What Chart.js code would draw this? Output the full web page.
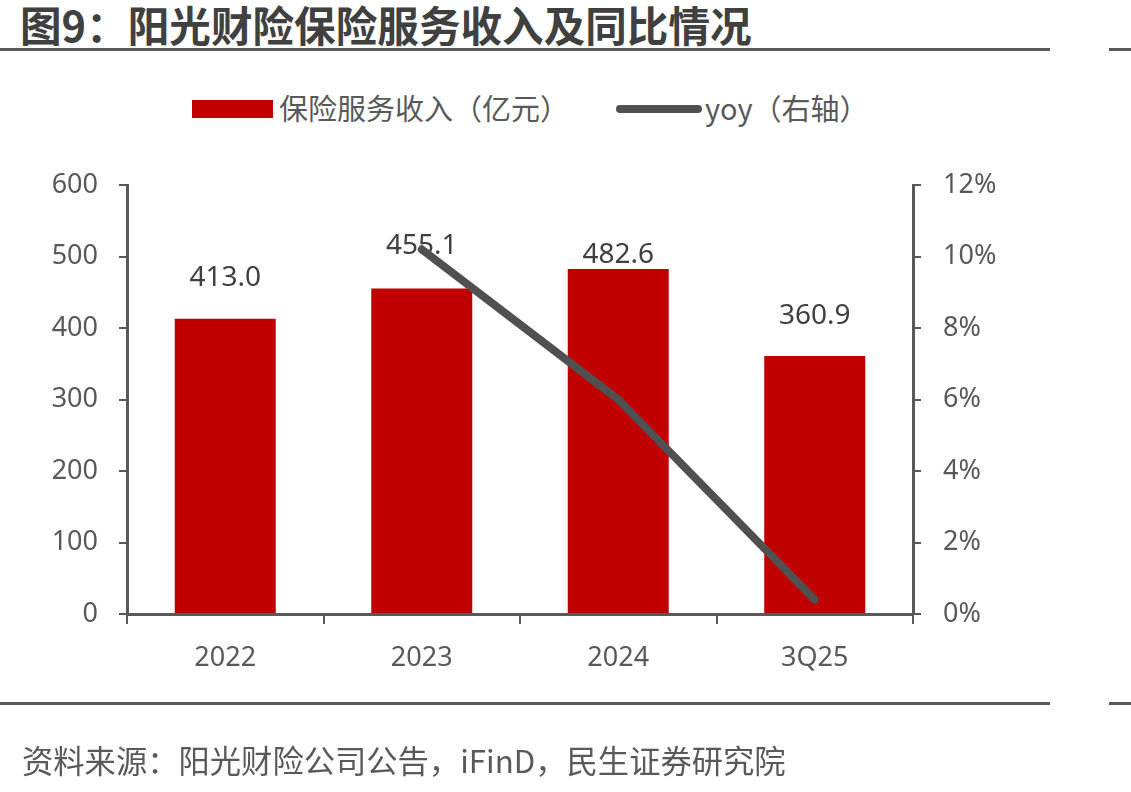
<!DOCTYPE html>
<html>
<head>
<meta charset="utf-8">
<script src="https://cdn.jsdelivr.net/npm/chart.js@4/dist/chart.umd.min.js"></script>
<style>
  html, body { margin:0; padding:0; background:#fff; }
  body { width:1131px; height:792px; position:relative; overflow:hidden;
         font-family:"Noto Sans","Noto Sans CJK SC",sans-serif; }
  #title { position:absolute; left:20px; top:1px; font-family:"Noto Sans CJK SC","Noto Sans",sans-serif;
           font-weight:700; font-size:41.6px; line-height:46px; color:#404040; white-space:nowrap; }
  .rule { position:absolute; height:3px; background:#595959; }
  .leg { position:absolute; font-family:"Noto Sans CJK SC","Noto Sans",sans-serif; font-size:29px;
         line-height:30px; color:#595959; white-space:nowrap; }
  #source { position:absolute; left:22px; top:742px; font-family:"Noto Sans CJK SC","Noto Sans",sans-serif;
            font-size:31.3px; line-height:36px; color:#595959; white-space:nowrap; }
  canvas { position:absolute; left:0; top:0; }
</style>
</head>
<body>
<div id="title">图9：阳光财险保险服务收入及同比情况</div>
<div class="rule" style="top:48px;left:0;width:1050px;"></div>
<div class="rule" style="top:48px;left:1109px;width:22px;"></div>

<div style="position:absolute;left:192px;top:100px;width:81px;height:18px;background:#C00000;"></div>
<div class="leg" style="left:279px;top:92px;">保险服务收入（亿元）</div>
<div style="position:absolute;left:616px;top:105px;width:86px;height:8px;border-radius:4px;background:#505050;"></div>
<div class="leg" style="left:705px;top:92px;">yoy（右轴）</div>

<canvas id="c" width="1131" height="792"></canvas>

<div class="rule" style="top:702px;left:0;width:1050px;"></div>
<div class="rule" style="top:702px;left:1109px;width:22px;"></div>
<div id="source">资料来源：阳光财险公司公告，iFinD，民生证券研究院</div>

<script>
const categories = ["2022", "2023", "2024", "3Q25"];
const revenue = [413.0, 455.1, 482.6, 360.9];      // 保险服务收入（亿元）
const yoy = [null, 10.2, 6.0, 0.4];                 // yoy（%，右轴）
const leftTicks = [0, 100, 200, 300, 400, 500, 600];
const rightTicks = [0, 2, 4, 6, 8, 10, 12];

const AXIS = '#595959';
const TICKFONT = { family: '"Noto Sans","Noto Sans CJK SC",sans-serif', size: 27 };

const barLabelPlugin = {
  id: 'barLabels',
  afterDatasetDraw(chart, args, opts) {
    if (args.index !== 0) return;
    const ctx = chart.ctx;
    const meta = chart.getDatasetMeta(0);
    ctx.save();
    ctx.font = '28px "Noto Sans","Noto Sans CJK SC",sans-serif';
    ctx.fillStyle = '#404040';
    ctx.textAlign = 'center';
    ctx.textBaseline = 'middle';
    meta.data.forEach((el, i) => {
      const off = opts.offsets[i];
      ctx.fillText(revenue[i].toFixed(1), el.x, el.y - off);
    });
    ctx.restore();
  }
};

new Chart(document.getElementById('c'), {
  data: {
    labels: categories,
    datasets: [
      {
        type: 'bar', label: '保险服务收入（亿元）', data: revenue, yAxisID: 'y',
        backgroundColor: '#C00000', borderWidth: 0,
        categoryPercentage: 1.0, barPercentage: 0.514, order: 2
      },
      {
        type: 'line', label: 'yoy（右轴）', data: yoy, yAxisID: 'y1',
        borderColor: '#505050', borderWidth: 8, borderCapStyle: 'round', borderJoinStyle: 'round',
        pointRadius: 0, tension: 0, fill: false, spanGaps: false, order: 1
      }
    ]
  },
  options: {
    responsive: false,
    animation: false,
    devicePixelRatio: 1,
    layout: { padding: { top: 185, left: 0, right: 0, bottom: 0 } },
    plugins: {
      legend: { display: false },
      tooltip: { enabled: false },
      barLabels: { offsets: [41, 43, 14, 40] }
    },
    scales: {
      x: {
        type: 'category', offset: true,
        grid: { display: true, drawOnChartArea: false, drawTicks: true, tickLength: 10, color: AXIS, lineWidth: 2, offset: true },
        border: { color: AXIS, width: 3 },
        ticks: { font: TICKFONT, color: AXIS, padding: 18 },
        afterFit(s) { s.height = 178; }
      },
      y: {
        position: 'left', min: 0, max: 600,
        afterBuildTicks(s) { s.ticks = leftTicks.map(v => ({ value: v })); },
        grid: { display: true, drawOnChartArea: false, tickLength: 8, color: AXIS, lineWidth: 2 },
        border: { color: AXIS, width: 3 },
        ticks: { font: TICKFONT, color: AXIS, padding: 21 },
        afterFit(s) { s.width = 127; }
      },
      y1: {
        position: 'right', min: 0, max: 12,
        afterBuildTicks(s) { s.ticks = rightTicks.map(v => ({ value: v })); },
        grid: { display: true, drawOnChartArea: false, tickLength: 8, color: AXIS, lineWidth: 2 },
        border: { color: AXIS, width: 3 },
        ticks: { font: TICKFONT, color: AXIS, padding: 22, callback: v => v + '%' },
        afterFit(s) { s.width = 218; }
      }
    }
  },
  plugins: [barLabelPlugin]
});
</script>
</body>
</html>
